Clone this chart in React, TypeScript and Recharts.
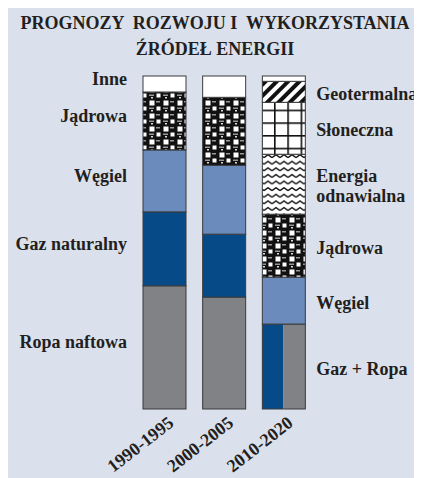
import React from 'react';
import { BarChart, Bar, XAxis, YAxis, LabelList } from 'recharts';

const categories = ['1990-1995', '2000-2005', '2010-2020'];
const ropa = [37, 33.6, 0];
const gaz = [22.2, 18.9, 0];
const gazRopa = [0, 0, 25.5];
const gazShare = [0, 0, 0.49];
const wegiel = [18.6, 20.7, 14.1];
const jadrowa = [17.4, 20.4, 18.9];
const energia = [0, 0, 18];
const sloneczna = [0, 0, 15.6];
const geoterm = [0, 0, 6.3];
const inne = [4.8, 6.4, 1.6];

const leftLabels: Record<string, string> = {
  ropa: 'Ropa naftowa',
  gaz: 'Gaz naturalny',
  wegiel: 'Węgiel',
  jadrowa: 'Jądrowa',
  inne: 'Inne',
};
const rightLabels: Record<string, string> = {
  gazRopa: 'Gaz + Ropa',
  wegiel: 'Węgiel',
  jadrowa: 'Jądrowa',
  energia: 'Energia\nodnawialna',
  sloneczna: 'Słoneczna',
  geoterm: 'Geotermalna',
};

const data = categories.map((c, i) => ({
  name: c,
  ropa: ropa[i],
  gaz: gaz[i],
  gazRopa: gazRopa[i],
  gazShare: gazShare[i],
  wegiel: wegiel[i],
  jadrowa: jadrowa[i],
  energia: energia[i],
  sloneczna: sloneczna[i],
  geoterm: geoterm[i],
  inne: inne[i],
}));

const series = [
  { key: 'ropa', fill: '#818285' },
  { key: 'gaz', fill: '#064b87' },
  { key: 'gazRopa', fill: '#818285' },
  { key: 'wegiel', fill: '#6a8bbb' },
  { key: 'jadrowa', fill: 'url(#pJad)' },
  { key: 'energia', fill: 'url(#pWave)' },
  { key: 'sloneczna', fill: 'url(#pSol)' },
  { key: 'geoterm', fill: 'url(#pGeo)' },
  { key: 'inne', fill: '#ffffff' },
];

const FONT = '"Liberation Serif", "Times New Roman", serif';
const STROKE = '#3a3a3a';

const makeShape = (key: string, fill: string) => (props: any) => {
  const { x, y, width, height, payload } = props;
  if (!height || height <= 0) return <g />;
  if (key === 'gazRopa') {
    const w1 = width * (payload.gazShare || 0.5);
    return (
      <g>
        <rect x={x} y={y} width={w1} height={height} fill="#064b87" />
        <rect x={x + w1} y={y} width={width - w1} height={height} fill="#818285" />
        <rect x={x} y={y} width={width} height={height} fill="none" stroke={STROKE} strokeWidth={1} />
      </g>
    );
  }
  return <rect x={x} y={y} width={width} height={height} fill={fill} stroke={STROKE} strokeWidth={1} />;
};

const makeLabel = (key: string) => (props: any) => {
  const { x, y, width, height, index } = props;
  if (!height || height <= 0) return null;
  const cy = y + height / 2;
  if (index === 0 && leftLabels[key]) {
    return (
      <text x={x - 16} y={cy + 1} textAnchor="end" fontFamily={FONT} fontWeight="bold" fontSize={18} fill="#231f20">
        {leftLabels[key]}
      </text>
    );
  }
  if (index === 2 && rightLabels[key]) {
    const lines = rightLabels[key].split('\n');
    const start = cy + 8 - ((lines.length - 1) * 20) / 2;
    return (
      <text x={x + width + 11} y={start} textAnchor="start" fontFamily={FONT} fontWeight="bold" fontSize={18} fill="#231f20">
        {lines.map((l, i) => (
          <tspan key={i} x={x + width + 11} dy={i === 0 ? 0 : 20}>
            {l}
          </tspan>
        ))}
      </text>
    );
  }
  return null;
};

const Tick = (props: any) => {
  const { x, y, payload } = props;
  return (
    <g transform={`translate(${x + 10},${y + 16})`}>
      <text transform="rotate(-38)" textAnchor="end" fontFamily={FONT} fontWeight="bold" fontSize={18} fill="#231f20">
        {payload.value}
      </text>
    </g>
  );
};

const Patterns = () => (
  <svg width={0} height={0} style={{ position: 'absolute' }}>
    <defs>
      <pattern id="pJad" patternUnits="userSpaceOnUse" width={14} height={13}>
        <rect width={14} height={13} fill="#111" />
        <rect x={1.5} y={1.5} width={5} height={5} fill="#fff" />
        <rect x={8.5} y={7.5} width={4} height={4} fill="#fff" />
        <rect x={8} y={2} width={4} height={1.5} fill="#999" />
        <rect x={1} y={8.5} width={5} height={1.5} fill="#999" />
        <rect x={3} y={11} width={2} height={1.5} fill="#ddd" />
      </pattern>
      <pattern id="pWave" patternUnits="userSpaceOnUse" width={8} height={6.6}>
        <rect width={8} height={6.6} fill="#fff" />
        <path d="M0,4.5 L4,1.5 L8,4.5" fill="none" stroke="#111" strokeWidth={1.4} />
      </pattern>
      <pattern id="pSol" patternUnits="userSpaceOnUse" width={13.3} height={12.7}>
        <rect width={13.3} height={12.7} fill="#fff" />
        <rect x={0} y={0} width={1.6} height={12.7} fill="#111" />
        <rect x={0} y={0} width={13.3} height={1.6} fill="#111" />
      </pattern>
      <pattern id="pGeo" patternUnits="userSpaceOnUse" width={8} height={8} patternTransform="rotate(45)">
        <rect width={8} height={8} fill="#fff" />
        <rect x={0} y={0} width={4} height={8} fill="#111" />
      </pattern>
    </defs>
  </svg>
);

export default function App() {
  return (
    <div style={{ position: 'relative', width: 414, height: 470, background: '#dbe1ec' }}>
      <Patterns />
      <div
        style={{
          position: 'absolute',
          top: 2,
          left: 0,
          width: 414,
          textAlign: 'center',
          fontFamily: FONT,
          fontWeight: 'bold',
          fontSize: 18,
          lineHeight: '26px',
          whiteSpace: 'pre',
          color: '#231f20',
        }}
      >
        {'PROGNOZY  ROZWOJU I  WYKORZYSTANIA\nŹRÓDEŁ ENERGII'}
      </div>
      <BarChart width={414} height={470} data={data} margin={{ top: 68, right: 108, left: 127, bottom: 0 }} barSize={43}>
        <YAxis hide domain={[0, 100]} />
        <XAxis dataKey="name" height={69} axisLine={false} tickLine={false} tickSize={0} tickMargin={0} tick={<Tick />} interval={0} />
        {series.map((s) => (
          <Bar key={s.key} dataKey={s.key} stackId="a" fill={s.fill} isAnimationActive={false} shape={makeShape(s.key, s.fill)}>
            <LabelList dataKey={s.key} content={makeLabel(s.key)} />
          </Bar>
        ))}
      </BarChart>
    </div>
  );
}
